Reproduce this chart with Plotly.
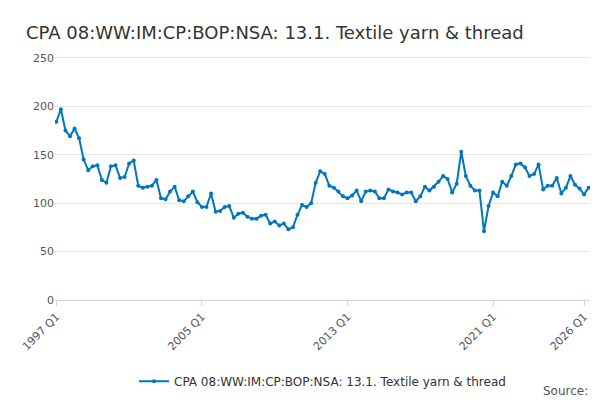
import plotly.graph_objects as go

years = list(range(1997, 2027))
quarters = [f"{y} Q{q}" for y in years for q in range(1, 5)]

values = [
    184, 197, 175, 169, 177, 167, 145, 134, 138, 139, 124, 121,
    138, 139, 126, 127, 141, 144, 118, 116, 117, 118, 124, 105,
    104, 112, 117, 103, 102, 107, 112, 101, 96, 96, 110, 91,
    92, 96, 97, 85, 89, 90, 86, 84, 84, 87, 88, 79,
    81, 77, 79, 73, 75, 88, 98, 96, 100, 121, 133, 130,
    118, 116, 112, 107, 105, 108, 113, 102, 112, 113, 112, 105,
    105, 114, 112, 111, 109, 111, 111, 102, 107, 117, 113, 117,
    122, 128, 125, 111, 120, 153, 128, 118, 113, 113, 71, 97,
    111, 107, 122, 118, 128, 140, 141, 137, 128, 130, 140, 114,
    118, 118, 126, 110, 116, 128, 119, 115, 109, 116,
]
quarters = quarters[:len(values)]
tick_labels = ["1997 Q1", "2005 Q1", "2013 Q1", "2021 Q1", "2026 Q1"]
label = "CPA 08:WW:IM:CP:BOP:NSA: 13.1. Textile yarn & thread"

fig = go.Figure(go.Scatter(
    x=quarters, y=values, mode="lines+markers", name=label,
    line=dict(color="#0077bd", width=2), marker=dict(size=4, color="#0077bd"),
))
fig.update_layout(
    width=600, height=400, paper_bgcolor="white", plot_bgcolor="white",
    font=dict(family="DejaVu Sans", color="#555"),
    title=dict(text=label, x=0.03, y=0.955, font=dict(size=18, color="#333")),
    margin=dict(l=35, r=18, t=45, b=103),
    showlegend=True,
    legend=dict(orientation="h", x=0.5, xanchor="center", y=-0.27,
                font=dict(size=12, color="#333")),
    annotations=[dict(text="Source:", x=1.0, xref="paper", xanchor="right",
                      y=-0.37, yref="paper", yanchor="middle",
                      showarrow=False, font=dict(size=12, color="#555"))],
)
fig.update_xaxes(tickmode="array", tickvals=tick_labels, ticktext=tick_labels,
                 tickangle=-45, showgrid=False, showline=True, linecolor="#ccd6eb",
                 ticks="outside", tickcolor="#ccd6eb", tickfont=dict(size=11),
                 range=[-0.3, len(values) - 0.7])
fig.update_yaxes(range=[0, 255], tickvals=[0, 50, 100, 150, 200, 250],
                 gridcolor="#e6e6e6", zeroline=False, tickfont=dict(size=11))
fig.write_html("out.html")
